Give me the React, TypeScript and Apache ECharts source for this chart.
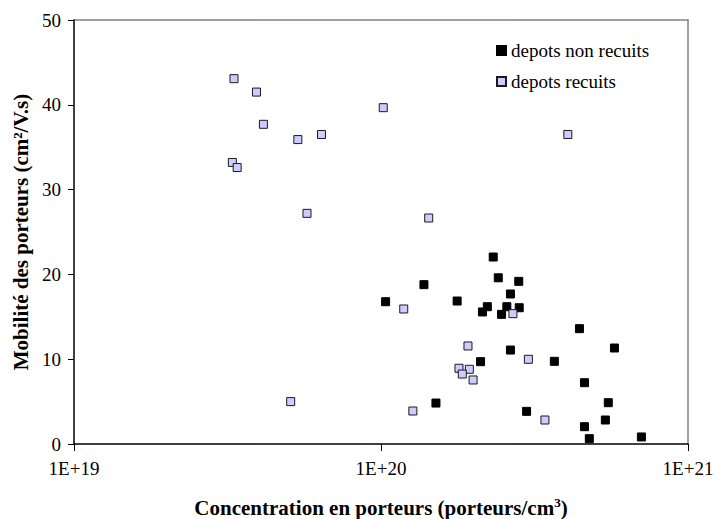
import React, { useEffect, useRef } from "react";
import * as echarts from "echarts";

const nonRecuitsX = [2.32e20, 2.41e20, 2.81e20, 1.38e20, 2.64e20, 1.035e20, 1.77e20, 2.22e20, 2.14e20, 2.57e20, 2.82e20, 2.47e20, 4.43e20, 5.76e20, 2.64e20, 2.11e20, 3.67e20, 4.6e20, 1.51e20, 5.5e20, 2.98e20, 5.38e20, 4.6e20, 4.77e20, 7.05e20];
const nonRecuitsY = [22.05, 19.6, 19.18, 18.79, 17.69, 16.78, 16.86, 16.19, 15.57, 16.19, 16.07, 15.29, 13.6, 11.32, 11.08, 9.71, 9.75, 7.23, 4.83, 4.87, 3.85, 2.83, 2.04, 0.63, 0.83];

const recuitsX = [3.32e19, 3.93e19, 4.14e19, 5.36e19, 6.4e19, 1.017e20, 3.28e19, 3.4e19, 5.74e19, 4.06e20, 1.43e20, 5.08e19, 1.186e20, 2.69e20, 1.92e20, 3.02e20, 1.795e20, 1.94e20, 1.84e20, 1.995e20, 1.27e20, 3.42e20];
const recuitsY = [43.08, 41.5, 37.7, 35.9, 36.5, 39.66, 33.2, 32.6, 27.2, 36.5, 26.65, 5.0, 15.92, 15.37, 11.56, 9.99, 8.93, 8.81, 8.25, 7.55, 3.89, 2.83];

const seriesNames = ["depots non recuits", "depots recuits"];
const seriesFills = ["#000000", "#ccccff"];
const seriesBorders = ["#000000", "#1a1a1a"];
const xTickLabels = ["1E+19", "1E+20", "1E+21"];
const xTickExponents = [19, 20, 21];

const FONT = "Liberation Serif";

export default function App() {
  const ref = useRef<HTMLDivElement>(null);
  useEffect(() => {
    if (!ref.current) return;
    const chart = echarts.init(ref.current, null, { renderer: "svg" });
    const pair = (xs: number[], ys: number[]) => xs.map((x, i) => [x, ys[i]]);
    chart.setOption({
      animation: false,
      backgroundColor: "#ffffff",
      textStyle: { fontFamily: FONT },
      grid: { left: 74, right: 25, top: 20, bottom: 75, show: false, outerBoundsMode: "none", containLabel: false },
      legend: {
        orient: "vertical",
        left: 491,
        top: 36,
        itemWidth: 9,
        itemHeight: 9,
        itemGap: 12,
        icon: "rect",
        data: seriesNames,
        textStyle: { fontFamily: FONT, fontSize: 19, color: "#000" },
      },
      xAxis: [
        {
          type: "log",
          logBase: 10,
          min: 1e19,
          max: 1e21,
          name: "Concentration en porteurs (porteurs/cm{sup|3})",
          nameLocation: "middle",
          nameGap: 52,
          nameTextStyle: {
            fontFamily: FONT,
            fontSize: 21,
            fontWeight: "bold",
            color: "#000",
            rich: {
              sup: {
                fontFamily: FONT,
                fontSize: 13,
                fontWeight: "bold",
                color: "#000",
                verticalAlign: "top",
                padding: [0, 0, 10, 0],
              },
            },
          },
          axisLine: { show: true, lineStyle: { color: "#000", width: 1.5 } },
          axisTick: { show: true, inside: false, length: 7, lineStyle: { color: "#000", width: 1 } },
          minorTick: { show: false },
          splitLine: { show: false },
          axisLabel: {
            fontFamily: FONT,
            fontSize: 19,
            color: "#000",
            margin: 15,
            formatter: (v: number) => {
              const e = Math.round(Math.log10(v));
              const idx = xTickExponents.indexOf(e);
              return idx >= 0 ? xTickLabels[idx] : "";
            },
          },
          z: 5,
        },
        {
          type: "log",
          logBase: 10,
          min: 1e19,
          max: 1e21,
          position: "top",
          axisLine: { show: true, onZero: false, lineStyle: { color: "#808080", width: 1.5 } },
          axisTick: { show: false },
          axisLabel: { show: false },
          splitLine: { show: false },
          z: 1,
        },
      ],
      yAxis: [
        {
          type: "value",
          min: 0,
          max: 50,
          interval: 10,
          name: "Mobilité des porteurs (cm²/V.s)",
          nameLocation: "middle",
          nameGap: 40,
          nameTextStyle: { fontFamily: FONT, fontSize: 21, fontWeight: "bold", color: "#000" },
          axisLine: { show: true, lineStyle: { color: "#000", width: 1.5 } },
          axisTick: { show: true, inside: false, length: 6, lineStyle: { color: "#000", width: 1 } },
          splitLine: { show: false },
          axisLabel: { fontFamily: FONT, fontSize: 19, color: "#000", margin: 13 },
          z: 5,
        },
        {
          type: "value",
          min: 0,
          max: 50,
          interval: 10,
          position: "right",
          axisLine: { show: true, onZero: false, lineStyle: { color: "#808080", width: 1.5 } },
          axisTick: { show: false },
          axisLabel: { show: false },
          splitLine: { show: false },
          z: 1,
        },
      ],
      series: [
        {
          name: seriesNames[0],
          type: "scatter",
          symbol: "rect",
          symbolSize: 8,
          itemStyle: { color: seriesFills[0], borderColor: seriesBorders[0], borderWidth: 1, opacity: 1 },
          data: pair(nonRecuitsX, nonRecuitsY),
        },
        {
          name: seriesNames[1],
          type: "scatter",
          symbol: "rect",
          symbolSize: 8,
          itemStyle: { color: seriesFills[1], borderColor: seriesBorders[1], borderWidth: 1, opacity: 1 },
          data: pair(recuitsX, recuitsY),
        },
      ],
    });
    return () => chart.dispose();
  }, []);
  return (
    <div
      ref={ref}
      style={{ position: "fixed", left: 0, top: 0, width: 713, height: 519, background: "#fff" }}
    />
  );
}
